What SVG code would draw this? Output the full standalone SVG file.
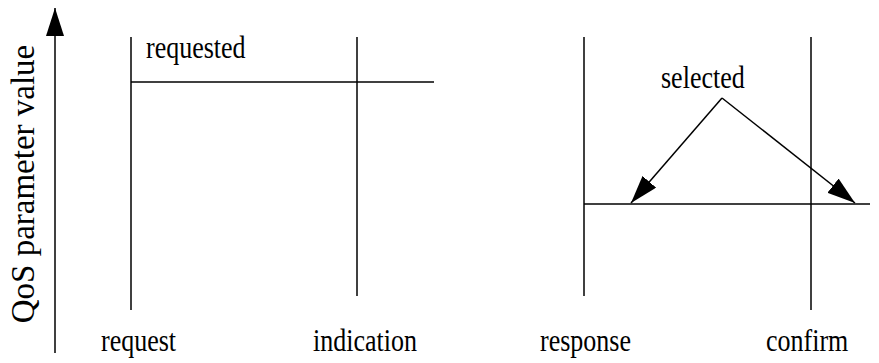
<svg xmlns="http://www.w3.org/2000/svg" width="879" height="363" viewBox="0 0 879 363">
<style>
.ln{stroke:#000;stroke-width:1.5;fill:none}
.t{font-family:"Liberation Serif","Times New Roman",serif;font-size:26px;fill:#000}
</style>
<defs>
<marker id="ah" viewBox="0 0 28 18" refX="28" refY="9" markerWidth="28" markerHeight="18" orient="auto" markerUnits="userSpaceOnUse">
<path d="M0,0 L28,9 L0,18 Z" fill="#000"/>
</marker>
</defs>
<rect width="879" height="363" fill="#fff"/>
<g id="axis">
<line class="ln" x1="55" y1="353" x2="55" y2="8" marker-end="url(#ah)"/>
<text class="t" style="font-size:33px" text-anchor="middle" transform="translate(34,184) rotate(-90)">QoS parameter value</text>
</g>
<g id="request">
<line class="ln" x1="131" y1="37" x2="131" y2="310"/>
<text class="t" transform="translate(101,351) scale(1,1.22)">request</text>
</g>
<g id="indication">
<line class="ln" x1="357" y1="37" x2="357" y2="296"/>
<text class="t" transform="translate(313,351) scale(1,1.22)">indication</text>
</g>
<g id="response">
<line class="ln" x1="584" y1="37" x2="584" y2="296"/>
<text class="t" transform="translate(540,351) scale(1,1.22)">response</text>
</g>
<g id="confirm">
<line class="ln" x1="811" y1="37" x2="811" y2="310"/>
<text class="t" transform="translate(766,351) scale(1,1.22)">confirm</text>
</g>
<g id="requested">
<line class="ln" x1="131" y1="82" x2="434" y2="82"/>
<text class="t" transform="translate(146,58) scale(1,1.22)">requested</text>
</g>
<g id="selected">
<line class="ln" x1="584" y1="204" x2="870" y2="204"/>
<text class="t" transform="translate(661,88) scale(1,1.22)">selected</text>
</g>
<g id="connectors">
<line class="ln" x1="722" y1="98" x2="631" y2="203" marker-end="url(#ah)"/>
<line class="ln" x1="722" y1="98" x2="855" y2="203" marker-end="url(#ah)"/>
</g>
</svg>
